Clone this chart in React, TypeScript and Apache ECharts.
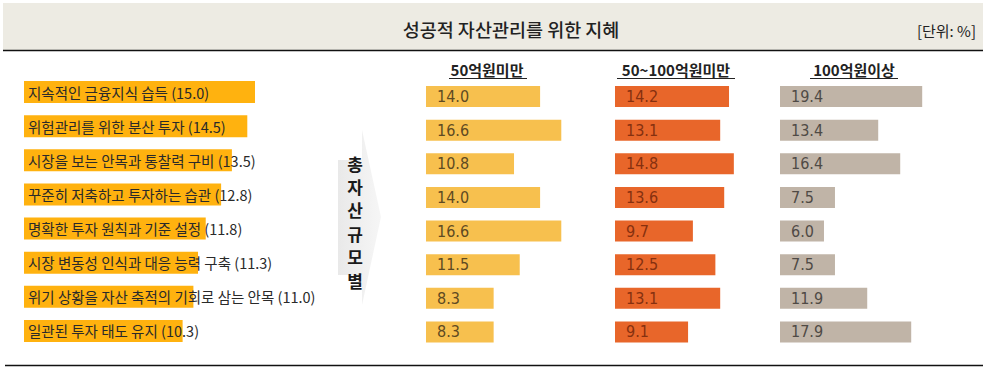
import React, { useEffect, useRef } from "react";
import * as echarts from "echarts";

const categories = [
  "지속적인 금융지식 습득",
  "위험관리를 위한 분산 투자",
  "시장을 보는 안목과 통찰력 구비",
  "꾸준히 저축하고 투자하는 습관",
  "명확한 투자 원칙과 기준 설정",
  "시장 변동성 인식과 대응 능력 구축",
  "위기 상황을 자산 축적의 기회로 삼는 안목",
  "일관된 투자 태도 유지",
];
const totalValues = [15.0, 14.5, 13.5, 12.8, 11.8, 11.3, 11.0, 10.3];
const groupNames = ["50억원미만", "50~100억원미만", "100억원이상"];
const under50 = [14.0, 16.6, 10.8, 14.0, 16.6, 11.5, 8.3, 8.3];
const from50to100 = [14.2, 13.1, 14.8, 13.6, 9.7, 12.5, 13.1, 9.1];
const over100 = [19.4, 13.4, 16.4, 7.5, 6.0, 7.5, 11.9, 17.9];
const title = "성공적 자산관리를 위한 지혜";
const unitText = "[단위: %]";
const sideLabel = "총자산규모별";

const KR = '"Noto Sans CJK KR", "Noto Sans", sans-serif';
const NUM = '"Liberation Sans Narrow", "DejaVu Sans Condensed", "Liberation Sans", sans-serif';

export default function App() {
  const ref = useRef<HTMLDivElement>(null);
  useEffect(() => {
    document.body.style.margin = "0";
    const chart = echarts.init(ref.current!, null, { renderer: "svg" });

    const colGrids = [
      { left: 426, width: 163, color: "#F7C04E", text: "#5e4a22", data: under50, center: 487, ul: [449, 527] },
      { left: 615, width: 160.6, color: "#E8662A", text: "#86300f", data: from50to100, center: 676, ul: [617, 735] },
      { left: 780, width: 146.6, color: "#C0B4A7", text: "#4f4a45", data: over100, center: 854, ul: [810, 898] },
    ];

    const grids: any[] = [
      { left: 24, top: 75, width: 308, height: 273, containLabel: false },
      ...colGrids.map((g) => ({ left: g.left, top: 79.7, width: g.width, height: 269 })),
    ];
    const xAxes = grids.map((_, i) => ({
      type: "value",
      gridIndex: i,
      min: 0,
      max: 20,
      show: false,
    }));
    const yAxes = grids.map((_, i) => ({
      type: "category",
      gridIndex: i,
      data: categories,
      inverse: true,
      show: false,
    }));

    const series: any[] = [
      {
        type: "bar",
        xAxisIndex: 0,
        yAxisIndex: 0,
        data: totalValues,
        barWidth: 22,
        itemStyle: { color: "#FFB20F" },
        label: {
          show: true,
          position: [4, "50%"],
          verticalAlign: "middle",
          align: "left",
          color: "#2a2a2a",
          fontFamily: KR,
          fontSize: 14.5,
          formatter: (p: any) => `${categories[p.dataIndex]} (${p.value.toFixed(1)})`,
        },
      },
      ...colGrids.map((g, i) => ({
        type: "bar",
        xAxisIndex: i + 1,
        yAxisIndex: i + 1,
        data: g.data,
        barWidth: 21,
        itemStyle: { color: g.color },
        label: {
          show: true,
          position: [11, "50%"],
          verticalAlign: "middle",
          align: "left",
          color: g.text,
          fontFamily: NUM,
          fontSize: 16,
          formatter: (p: any) => p.value.toFixed(1),
        },
      })),
    ];

    const sideChars = sideLabel.split("");
    const graphic: any[] = [
      { type: "rect", shape: { x: 3, y: 3, width: 980, height: 47 }, style: { fill: "#EDEBE3" }, z: 0 },
      { type: "line", shape: { x1: 3, y1: 50.5, x2: 983, y2: 50.5 }, style: { stroke: "#111", lineWidth: 1.6 } },
      { type: "line", shape: { x1: 5, y1: 365.5, x2: 983, y2: 365.5 }, style: { stroke: "#111", lineWidth: 1.6 } },
      {
        type: "text",
        x: 511,
        y: 29,
        style: { text: title, fill: "#222", font: `500 18.5px ${KR}`, align: "center", verticalAlign: "middle" },
      },
      {
        type: "text",
        x: 976,
        y: 30,
        style: { text: unitText, fill: "#222", font: `15px ${KR}`, align: "right", verticalAlign: "middle" },
      },
      {
        type: "polygon",
        shape: {
          points: [
            [338, 160],
            [362, 160],
            [362, 130],
            [381, 217],
            [362, 305],
            [362, 275],
            [338, 275],
          ],
        },
        style: {
          fill: new echarts.graphic.LinearGradient(0, 0, 1, 0, [
            { offset: 0, color: "#e9e9e9" },
            { offset: 1, color: "#f6f6f6" },
          ]),
        },
      },
      ...sideChars.map((c, i) => ({
        type: "text",
        x: 355,
        y: 163 + i * 23.4,
        style: { text: c, fill: "#1a1a1a", font: `bold 17px ${KR}`, align: "center", verticalAlign: "middle" },
      })),
      ...colGrids.flatMap((g, i) => [
        {
          type: "text",
          x: g.center,
          y: 69,
          style: { text: groupNames[i], fill: "#222", font: `bold 15px ${KR}`, align: "center", verticalAlign: "middle" },
        },
        {
          type: "line",
          shape: { x1: g.ul[0], y1: 78.5, x2: g.ul[1], y2: 78.5 },
          style: { stroke: "#222", lineWidth: 1 },
        },
      ]),
    ];

    chart.setOption({
      animation: false,
      grid: grids,
      xAxis: xAxes,
      yAxis: yAxes,
      series,
      graphic,
    });

    return () => chart.dispose();
  }, []);

  return <div ref={ref} style={{ width: 986, height: 374 }} />;
}
